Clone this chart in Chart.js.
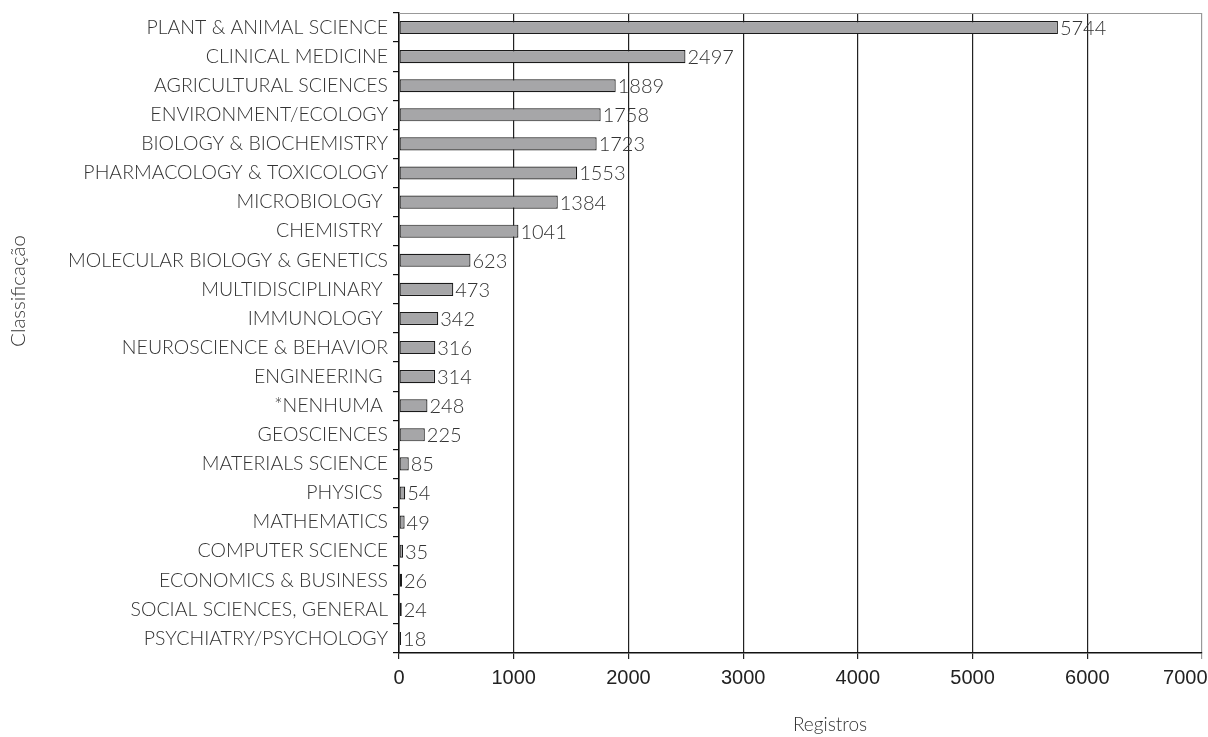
<!DOCTYPE html>
<html><head><meta charset="utf-8">
<script src="https://cdn.jsdelivr.net/npm/chart.js@4/dist/chart.umd.min.js"></script>
<style>html,body{margin:0;padding:0;background:#fff}#wrap{width:1208px;height:737px}</style>
</head><body><div id="wrap"><canvas id="c" width="1208" height="737"></canvas></div>
<script>
const categories = ["PLANT & ANIMAL SCIENCE","CLINICAL MEDICINE","AGRICULTURAL SCIENCES","ENVIRONMENT/ECOLOGY","BIOLOGY & BIOCHEMISTRY","PHARMACOLOGY & TOXICOLOGY","MICROBIOLOGY ","CHEMISTRY ","MOLECULAR BIOLOGY & GENETICS","MULTIDISCIPLINARY ","IMMUNOLOGY ","NEUROSCIENCE & BEHAVIOR","ENGINEERING ","*NENHUMA ","GEOSCIENCES","MATERIALS SCIENCE","PHYSICS ","MATHEMATICS","COMPUTER SCIENCE","ECONOMICS & BUSINESS","SOCIAL SCIENCES, GENERAL","PSYCHIATRY/PSYCHOLOGY"];
const registros = [5744,2497,1889,1758,1723,1553,1384,1041,623,473,342,316,314,248,225,85,54,49,35,26,24,18];
const xTicks = [0,1000,2000,3000,4000,5000,6000,7000];
const xTitle = 'Registros';
const yTitle = 'Classificação';

const lightFamily = "Lato, 'Noto Sans', sans-serif";
const extrasPlugin = {
  id: 'extras',
  beforeDatasetsDraw(chart) {
    const {ctx, chartArea:a} = chart;
    ctx.save();
    ctx.strokeStyle = '#999';
    ctx.lineWidth = 1.2;
    ctx.beginPath();
    ctx.moveTo(a.left, a.top + 0.5);
    ctx.lineTo(a.right, a.top + 0.5);
    ctx.stroke();
    ctx.restore();
  },
  afterDatasetsDraw(chart) {
    const ctx = chart.ctx;
    const meta = chart.getDatasetMeta(0);
    ctx.save();
    ctx.font = "300 20px " + lightFamily;
    ctx.fillStyle = '#333';
    ctx.textBaseline = 'middle';
    ctx.textAlign = 'left';
    meta.data.forEach((bar, i) => {
      ctx.fillText(String(registros[i]), bar.x + 2, bar.y + 1);
    });
    ctx.restore();
  },
  afterDraw(chart) {
    const ctx = chart.ctx;
    ctx.save();
    ctx.fillStyle = '#333';
    ctx.font = "300 19px " + lightFamily;
    ctx.textAlign = 'center';
    ctx.textBaseline = 'middle';
    ctx.fillText(xTitle, 830, 725);
    ctx.translate(18, 291);
    ctx.rotate(-Math.PI / 2);
    ctx.font = "300 20.5px " + lightFamily;
    ctx.fillText(yTitle, 0, 0);
    ctx.restore();
  }
};

new Chart(document.getElementById('c'), {
  type: 'bar',
  data: {
    labels: categories,
    datasets: [{
      data: registros,
      backgroundColor: '#a6a6a8',
      borderColor: '#1a1a1a',
      borderWidth: 1.2,
      borderSkipped: false,
      barPercentage: 0.45,
      categoryPercentage: 1.0
    }]
  },
  options: {
    indexAxis: 'y',
    responsive: false,
    animation: false,
    events: [],
    layout: { padding: { top: 13, right: 6, left: 0, bottom: 0 } },
    plugins: { legend: { display: false }, tooltip: { enabled: false } },
    scales: {
      x: {
        min: 0, max: 7000,
        afterBuildTicks(scale) { scale.ticks = xTicks.map(v => ({ value: v })); },
        afterFit(scale) { scale.height = 84; scale.paddingLeft = 0; scale.paddingRight = 0; },
        grid: {
          color: ctx => ctx.tick && ctx.tick.value === 7000 ? '#999' : '#222',
          lineWidth: 1.2,
          tickLength: 6,
          drawTicks: true
        },
        border: { color: '#111', width: 1.5 },
        ticks: {
          color: '#222',
          font: { family: "'Liberation Sans', Arial, sans-serif", size: 20 },
          padding: 7, maxRotation: 0,
          callback: v => v === 7000 ? String(v) + '      ' : String(v)
        }
      },
      y: {
        afterFit(scale) { scale.width = 399; scale.paddingTop = 0; scale.paddingBottom = 0; },
        grid: { offset: true, drawOnChartArea: false, tickLength: 6, color: '#111', lineWidth: 1.2 },
        border: { color: '#111', width: 1.5 },
        ticks: { color: '#333', font: { family: lightFamily, size: 19.5, weight: '300' }, padding: 5, autoSkip: false }
      }
    }
  },
  plugins: [extrasPlugin]
});
</script></body></html>
